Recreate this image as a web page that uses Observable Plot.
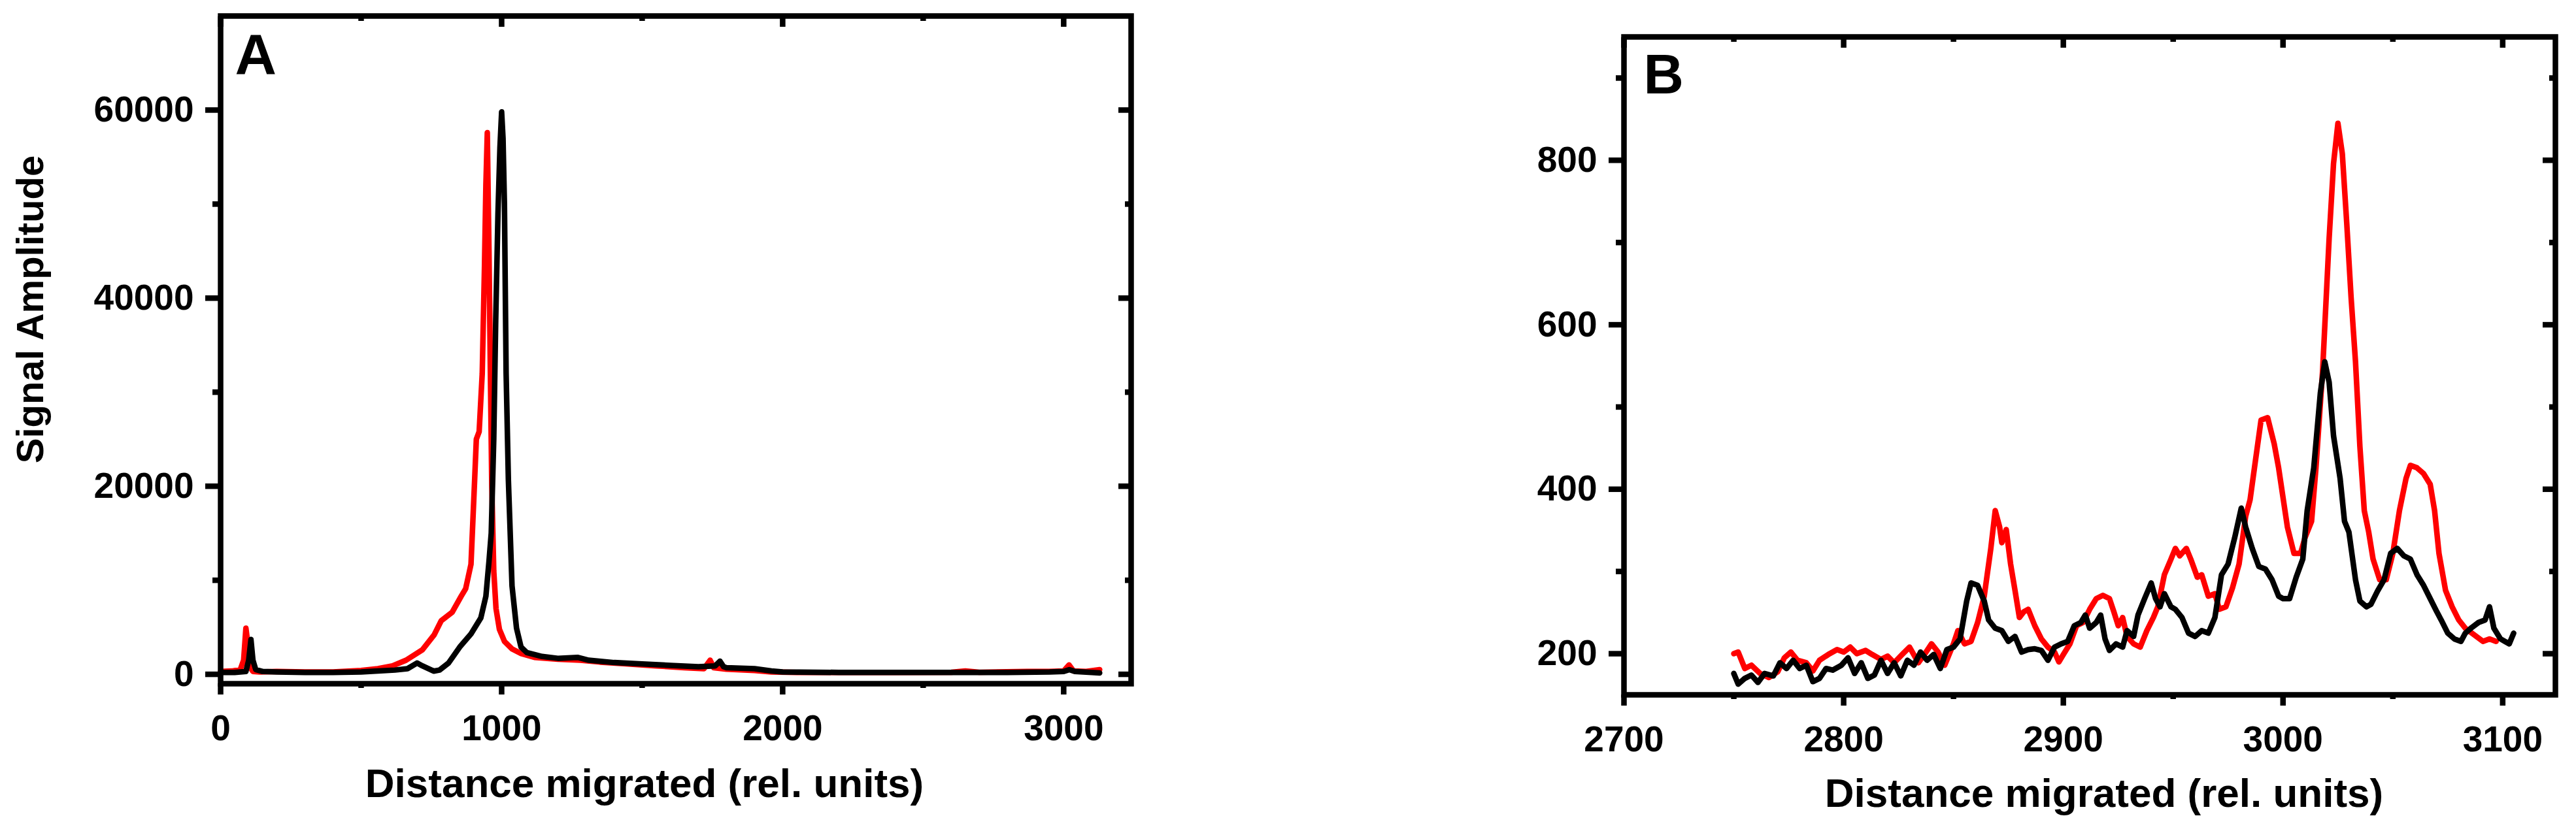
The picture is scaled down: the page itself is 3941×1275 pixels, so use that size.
<!DOCTYPE html>
<html>
<head>
<meta charset="utf-8">
<script src="https://cdn.jsdelivr.net/npm/d3@7"></script>
<script src="https://cdn.jsdelivr.net/npm/@observablehq/plot@0.6"></script>
<style>
  html, body { margin: 0; padding: 0; background: #fff; }
  #wrap { position: relative; width: 3941px; height: 1275px; background: #fff; overflow: hidden; }
  #panelA { position: absolute; left: 0; top: 0; }
  #panelB { position: absolute; left: 2000px; top: 0; }
</style>
</head>
<body>
<div id="wrap"><div id="panelA"></div><div id="panelB"></div></div>
<script>
// ---------- Panel A data ----------
const aRedX = [0, 40, 70, 82, 90, 96, 104, 115, 140, 200, 300, 400, 500, 560, 612, 660, 718, 760, 785, 824, 856, 872, 891, 904, 910, 920, 931, 939, 944, 949, 955, 960, 965, 972, 980, 992, 1010, 1037, 1070, 1117, 1200, 1280, 1350, 1450, 1550, 1650, 1720, 1742, 1755, 1800, 1900, 1960, 2050, 2200, 2400, 2600, 2650, 2700, 2870, 2950, 3000, 3019, 3035, 3080, 3128];
const aRedY = [300, 350, 500, 1500, 4900, 3500, 800, 300, 250, 300, 250, 250, 400, 600, 900, 1500, 2600, 4200, 5700, 6600, 8300, 9100, 11700, 20700, 25000, 25800, 32000, 43400, 52000, 57600, 45000, 32000, 20000, 11000, 7000, 4800, 3500, 2700, 2200, 1800, 1600, 1500, 1300, 1100, 900, 700, 600, 1500, 700, 550, 400, 250, 200, 200, 200, 220, 350, 220, 300, 300, 350, 1000, 350, 300, 500];
const aBlackX = [0, 50, 90, 100, 108, 115, 125, 150, 200, 300, 400, 500, 560, 620, 665, 699, 718, 758, 779, 811, 851, 891, 926, 944, 955, 963, 972, 979, 987, 994, 1000, 1005, 1010, 1016, 1024, 1037, 1053, 1069, 1090, 1144, 1200, 1270, 1310, 1400, 1500, 1600, 1700, 1760, 1777, 1790, 1800, 1900, 1960, 2000, 2200, 2500, 2800, 2950, 3000, 3020, 3040, 3100, 3128];
const aBlackY = [200, 200, 300, 1500, 3700, 1500, 500, 300, 250, 200, 200, 250, 350, 450, 600, 1200, 900, 340, 450, 1200, 2900, 4300, 6000, 8300, 12000, 15000, 25000, 37700, 49000, 56000, 59800, 57000, 50000, 32000, 20700, 9400, 4900, 2900, 2300, 1900, 1700, 1800, 1500, 1250, 1100, 950, 800, 900, 1400, 800, 700, 600, 350, 250, 200, 200, 200, 250, 300, 500, 300, 200, 150];
const aXTicks = [0, 1000, 2000, 3000];
const aXMinor = [500, 1500, 2500];
const aYTicks = [0, 20000, 40000, 60000];
const aYMinor = [10000, 30000, 50000];

// ---------- Panel B data ----------
const bRedX = [2750, 2752, 2755, 2758, 2762, 2766, 2770, 2773, 2776, 2779, 2783, 2786, 2789, 2793, 2797, 2800, 2803, 2806, 2810, 2813, 2817, 2820, 2823, 2827, 2830, 2834, 2837, 2840, 2843, 2846, 2850, 2852, 2855, 2858, 2861, 2864, 2867, 2869, 2871, 2872, 2874, 2876, 2878, 2880, 2882, 2884, 2887, 2890, 2893, 2896, 2898, 2900, 2903, 2906, 2909, 2912, 2915, 2918, 2921, 2923, 2925, 2927, 2929, 2932, 2935, 2938, 2941, 2943, 2946, 2949, 2951, 2953, 2956, 2958, 2961, 2963, 2966, 2969, 2971, 2974, 2977, 2980, 2983, 2985, 2987, 2990, 2993, 2996, 2998, 3000, 3002, 3005, 3008, 3010, 3013, 3015, 3018, 3021, 3023, 3025, 3027, 3029, 3031, 3033, 3035, 3037, 3039, 3041, 3044, 3047, 3050, 3053, 3056, 3058, 3061, 3064, 3067, 3069, 3071, 3074, 3077, 3080, 3083, 3086, 3088, 3091, 3094, 3097];
const bRedY = [200, 202, 182, 186, 176, 171, 178, 195, 202, 192, 189, 179, 192, 199, 205, 202, 208, 200, 204, 199, 193, 197, 189, 200, 208, 189, 200, 212, 202, 186, 212, 228, 212, 215, 238, 270, 328, 374, 354, 335, 351, 309, 277, 244, 251, 254, 234, 218, 208, 202, 190, 199, 212, 234, 238, 254, 267, 271, 267, 251, 234, 244, 221, 212, 208, 228, 244, 257, 296, 315, 328, 319, 328, 315, 293, 296, 270, 273, 254, 257, 280, 309, 367, 387, 426, 484, 487, 455, 426, 390, 354, 322, 322, 341, 361, 426, 543, 705, 796, 845, 808, 724, 633, 555, 452, 374, 348, 315, 290, 290, 322, 374, 413, 429, 426, 419, 406, 374, 322, 277, 257, 241, 231, 225, 221, 215, 218, 215];
const bBlackX = [2750, 2752, 2755, 2758, 2761, 2764, 2768, 2771, 2774, 2777, 2780, 2783, 2786, 2789, 2792, 2795, 2799, 2802, 2805, 2808, 2811, 2814, 2817, 2820, 2823, 2826, 2829, 2832, 2835, 2838, 2841, 2844, 2847, 2850, 2853, 2856, 2858, 2861, 2864, 2866, 2869, 2872, 2875, 2878, 2881, 2884, 2887, 2890, 2893, 2896, 2899, 2902, 2905, 2908, 2910, 2912, 2915, 2917, 2919, 2921, 2924, 2927, 2929, 2932, 2934, 2937, 2940, 2942, 2944, 2946, 2949, 2951, 2954, 2957, 2960, 2963, 2966, 2969, 2972, 2975, 2978, 2981, 2983, 2986, 2989, 2992, 2995, 2998, 3000, 3003, 3006, 3009, 3011, 3014, 3017, 3019, 3021, 3023, 3026, 3028, 3030, 3033, 3035, 3038, 3040, 3043, 3046, 3049, 3052, 3055, 3058, 3061, 3064, 3067, 3070, 3072, 3075, 3078, 3081, 3083, 3086, 3089, 3092, 3094, 3096, 3099, 3101, 3103, 3105];
const bBlackY = [176, 163, 170, 174, 165, 176, 173, 189, 182, 192, 182, 186, 166, 170, 182, 180, 186, 195, 176, 189, 170, 174, 192, 176, 189, 173, 192, 186, 202, 192, 199, 182, 205, 208, 218, 264, 286, 283, 264, 241, 231, 228, 215, 221, 202, 205, 206, 204, 192, 208, 212, 215, 234, 238, 247, 231, 238, 247, 218, 204, 212, 208, 228, 221, 247, 267, 286, 267, 257, 273, 257, 254, 244, 225, 221, 228, 225, 244, 296, 309, 341, 377, 354, 328, 306, 303, 290, 270, 267, 267, 293, 315, 374, 426, 517, 555, 530, 465, 413, 361, 348, 290, 264, 257, 260, 276, 290, 322, 328, 319, 315, 296, 283, 267, 251, 241, 225, 218, 215, 225, 232, 238, 241, 257, 231, 218, 215, 212, 225];
const bXTicks = [2700, 2800, 2900, 3000, 3100];
const bXMinor = [2750, 2850, 2950, 3050];
const bYTicks = [200, 400, 600, 800];
const bYMinor = [300, 500, 700, 900];

const xTitle = "Distance migrated (rel. units)";
const yTitle = "Signal Amplitude";

const toRows = (xs, ys) => xs.map((x, i) => ({x, y: ys[i]}));
const FONT = "'Liberation Sans', Arial, Helvetica, sans-serif";
const baseStyle = {fontFamily: FONT, fontWeight: "bold", fontSize: "55px", color: "black", background: "transparent", overflow: "visible"};
const LW = 8.5; // data line width
const FW = 8.5; // frame / tick width

function frameAxes(xT, xM, yT, yM) {
  return [
    // left: outward
    Plot.axisY(yT, {anchor: "left", tickSize: 23, tickPadding: 18, tickFormat: "d", strokeWidth: FW, label: null}),
    Plot.axisY(yM, {anchor: "left", tickSize: 12, fill: "none", strokeWidth: FW, label: null}),
    // right: inward
    Plot.axisY(yT, {anchor: "right", tickSize: 20, dx: -20, fill: "none", strokeWidth: FW, label: null}),
    Plot.axisY(yM, {anchor: "right", tickSize: 10, dx: -10, fill: "none", strokeWidth: FW, label: null}),
    // bottom: outward
    Plot.axisX(xT, {anchor: "bottom", tickSize: 17, tickPadding: 30, tickFormat: "d", strokeWidth: FW, label: null}),
    Plot.axisX(xM, {anchor: "bottom", tickSize: 7, fill: "none", strokeWidth: FW, label: null}),
    // top: inward
    Plot.axisX(xT, {anchor: "top", tickSize: 16, dy: 16, fill: "none", strokeWidth: FW, label: null}),
    Plot.axisX(xM, {anchor: "top", tickSize: 7, dy: 7, fill: "none", strokeWidth: FW, label: null})
  ];
}

const plotA = Plot.plot({
  width: 1900, height: 1275,
  marginLeft: 337, marginRight: 170, marginTop: 24, marginBottom: 229,
  x: {domain: [0, 3240]},
  y: {domain: [-1000, 70000]},
  style: baseStyle,
  marks: [
    ...frameAxes(aXTicks, aXMinor, aYTicks, aYMinor),
    Plot.line(toRows(aRedX, aRedY), {x: "x", y: "y", stroke: "#ff0000", strokeWidth: LW, strokeLinejoin: "round", strokeLinecap: "round"}),
    Plot.line(toRows(aBlackX, aBlackY), {x: "x", y: "y", stroke: "#000000", strokeWidth: LW, strokeLinejoin: "round", strokeLinecap: "round"}),
    Plot.frame({stroke: "black", strokeWidth: FW}),
    Plot.text(["A"], {text: d => d, frameAnchor: "top-left", dx: 22, dy: 88, lineAnchor: "bottom", textAnchor: "start", fontSize: 88, fontWeight: "bold"}),
    Plot.text([xTitle], {text: d => d, frameAnchor: "bottom", dx: -48, dy: 154, lineAnchor: "middle", textAnchor: "middle", fontSize: 62, fontWeight: "bold"}),
    Plot.text([yTitle], {text: d => d, frameAnchor: "left", rotate: -90, dx: -290, dy: -62, lineAnchor: "middle", textAnchor: "middle", fontSize: 58, fontWeight: "bold"})
  ]
});

const plotB = Plot.plot({
  width: 1941, height: 1275,
  marginLeft: 484, marginRight: 32, marginTop: 56, marginBottom: 212,
  x: {domain: [2700, 3124]},
  y: {domain: [150, 950]},
  style: baseStyle,
  marks: [
    ...frameAxes(bXTicks, bXMinor, bYTicks, bYMinor),
    Plot.line(toRows(bRedX, bRedY), {x: "x", y: "y", stroke: "#ff0000", strokeWidth: LW, strokeLinejoin: "round", strokeLinecap: "round"}),
    Plot.line(toRows(bBlackX, bBlackY), {x: "x", y: "y", stroke: "#000000", strokeWidth: LW, strokeLinejoin: "round", strokeLinecap: "round"}),
    Plot.frame({stroke: "black", strokeWidth: FW}),
    Plot.text(["B"], {text: d => d, frameAnchor: "top-left", dx: 30, dy: 86, lineAnchor: "bottom", textAnchor: "start", fontSize: 85, fontWeight: "bold"}),
    Plot.text([xTitle], {text: d => d, frameAnchor: "bottom", dx: 22, dy: 152, lineAnchor: "middle", textAnchor: "middle", fontSize: 62, fontWeight: "bold"})
  ]
});

document.getElementById("panelA").appendChild(plotA);
document.getElementById("panelB").appendChild(plotB);
</script>
</body>
</html>
